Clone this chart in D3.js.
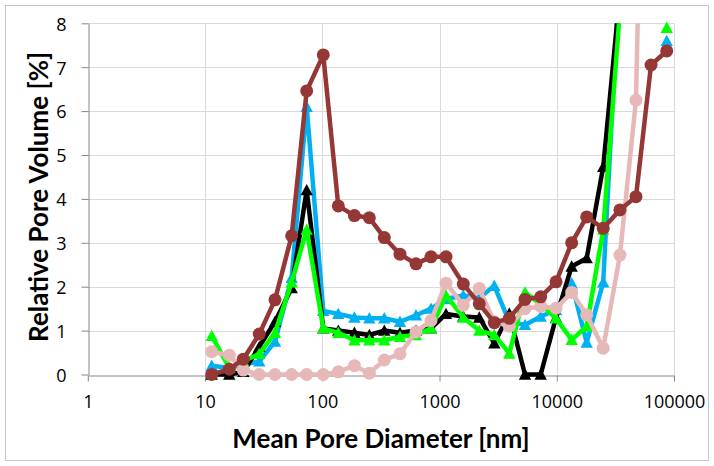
<!DOCTYPE html>
<html><head><meta charset="utf-8">
<script src="https://cdn.jsdelivr.net/npm/d3@7"></script>
<style>html,body{margin:0;padding:0;background:#fff;}svg{display:block;}</style>
</head><body>
<svg id="chart" width="714" height="466"></svg>
<script>
// ---- data ----
const diameters = [11.4, 16.1, 21.2, 29.0, 39.5, 54.8, 73.6, 102, 137, 188, 252, 338, 460, 630, 846, 1136, 1595, 2183, 2933, 3938, 5358, 7295, 9862, 13400, 18000, 24900, 34600, 47400, 63700, 86700];
const blueValues  = [0.2, 0.15, 0.22, 0.3, 0.75, 2.2, 6.1, 1.45, 1.38, 1.3, 1.28, 1.28, 1.2, 1.35, 1.5, 1.72, 1.8, 1.74, 2.02, 1.2, 1.13, 1.32, 1.47, 2.08, 0.73, 2.1, 9.4, null, null, 7.6];
const blackValues = [0, 0, 0.06, 0.63, 1.2, 1.97, 4.2, 1.05, 1.0, 0.95, 0.9, 1.0, 0.95, 1.0, 1.05, 1.38, 1.32, 1.3, 0.71, 1.39, 0, 0, 1.3, 2.46, 2.65, 4.73, 8.7, null, null, null];
const greenValues = [0.88, 0.15, 0.3, 0.47, 0.95, 2.1, 3.3, 1.05, 0.95, 0.78, 0.78, 0.78, 0.86, 0.9, 1.05, 1.8, 1.3, 1.0, 0.9, 0.48, 1.87, 1.6, 1.28, 0.79, 1.1, 3.3, 8.3, null, null, 7.9];
const pinkValues  = [0.52, 0.44, 0.1, 0, 0, 0, 0, 0, 0.06, 0.2, 0.03, 0.33, 0.47, 0.97, 1.23, 2.08, 1.58, 1.96, 1.2, 1.1, 1.5, 1.55, 1.51, 1.87, 1.36, 0.6, 2.72, 6.25, 22, null];
const brownValues = [0, 0.12, 0.35, 0.92, 1.70, 3.16, 6.46, 7.28, 3.84, 3.62, 3.57, 3.12, 2.74, 2.52, 2.68, 2.68, 2.06, 1.61, 1.18, 1.28, 1.71, 1.77, 2.11, 3.0, 3.59, 3.33, 3.75, 4.05, 7.05, 7.37];
const xTicks = [1, 10, 100, 1000, 10000, 100000];
const yTicks = [0, 1, 2, 3, 4, 5, 6, 7, 8];
const xTitle = "Mean Pore Diameter [nm]";
const yTitle = "Relative Pore Volume [%]";

const series = [
  {name: "Blue",  values: blueValues,  color: "#00B0F0", marker: "triangle"},
  {name: "Black", values: blackValues, color: "#000000", marker: "triangle"},
  {name: "Green", values: greenValues, color: "#00FF00", marker: "triangle"},
  {name: "Pink",  values: pinkValues,  color: "#E6B9B8", marker: "circle"},
  {name: "Brown", values: brownValues, color: "#953735", marker: "circle"}
];

// ---- layout ----
const W = 714, H = 466;
const plot = {left: 87.8, right: 674, top: 23.3, bottom: 374.5};
const svg = d3.select("#chart");

svg.append("rect").attr("x", 5.5).attr("y", 5.5).attr("width", 703).attr("height", 455)
  .attr("fill", "#fff").attr("stroke", "#C6C6C6").attr("stroke-width", 1);

const x = d3.scaleLog().domain([1, 100000]).range([plot.left, plot.right]);
const y = d3.scaleLinear().domain([0, 8]).range([plot.bottom, plot.top]);

// gridlines
const grid = svg.append("g");
grid.selectAll("line.h").data(yTicks.filter(d => d > 0)).join("line")
  .attr("x1", plot.left).attr("x2", plot.right)
  .attr("y1", d => Math.round(y(d)) + 0.5).attr("y2", d => Math.round(y(d)) + 0.5)
  .attr("stroke", "#D9D9D9").attr("stroke-width", 1);
grid.selectAll("line.v").data(xTicks.filter(d => d > 1)).join("line")
  .attr("y1", plot.top).attr("y2", plot.bottom)
  .attr("x1", d => Math.round(x(d)) + 0.5).attr("x2", d => Math.round(x(d)) + 0.5)
  .attr("stroke", "#D9D9D9").attr("stroke-width", 1);

// axes
const xAxis = d3.axisBottom(x).tickValues(xTicks).tickFormat(d3.format("d")).tickSizeInner(6).tickSizeOuter(0).tickPadding(14);
const yAxis = d3.axisLeft(y).tickValues(yTicks).tickSizeInner(7).tickSizeOuter(0).tickPadding(15);
const gx = svg.append("g").attr("transform", `translate(0,${Math.round(plot.bottom) + 0.5})`).call(xAxis);
const gy = svg.append("g").attr("transform", `translate(${Math.round(plot.left) + 0.5},0)`).call(yAxis);
[gx, gy].forEach(g => {
  g.select(".domain").attr("stroke", "#868686").attr("stroke-width", 1);
  g.selectAll(".tick line").attr("stroke", "#868686");
  g.selectAll(".tick text").attr("fill", "#000").attr("font-family", "'Open Sans', sans-serif").attr("font-size", 18);
});
gy.selectAll(".tick text").attr("dy", "0.38em");

// clip
svg.append("clipPath").attr("id", "plotclip").append("rect")
  .attr("x", plot.left - 10).attr("y", plot.top).attr("width", plot.right - plot.left + 20).attr("height", plot.bottom - plot.top + 8);

const line = d3.line()
  .defined(d => d.v !== null)
  .x(d => x(d.x)).y(d => y(d.v));

const tri = "M0,-6.2L6.2,5.2L-6.2,5.2Z";

series.forEach(s => {
  const pts = diameters.map((dx, i) => ({x: dx, v: s.values[i]}));
  svg.append("path").datum(pts).attr("d", line)
    .attr("fill", "none").attr("stroke", s.color).attr("stroke-width", 4.5)
    .attr("stroke-linejoin", "round").attr("clip-path", "url(#plotclip)");
  const vis = pts.filter(d => d.v !== null && d.v <= 8);
  if (s.marker === "circle") {
    svg.append("g").selectAll("circle").data(vis).join("circle")
      .attr("cx", d => x(d.x)).attr("cy", d => y(d.v)).attr("r", 6.5).attr("fill", s.color);
  } else {
    svg.append("g").selectAll("path").data(vis).join("path")
      .attr("d", tri).attr("transform", d => `translate(${x(d.x)},${y(d.v)})`).attr("fill", s.color);
  }
});

// titles
svg.append("text").attr("x", 381).attr("y", 448)
  .attr("text-anchor", "middle").attr("font-family", "Lato, 'Open Sans', sans-serif")
  .attr("font-weight", "bold").attr("font-size", 26).attr("fill", "#000").text(xTitle);
svg.append("text").attr("transform", `translate(48,${(plot.top + plot.bottom) / 2 - 2}) rotate(-90)`)
  .attr("text-anchor", "middle").attr("font-family", "Lato, 'Open Sans', sans-serif")
  .attr("font-weight", "bold").attr("font-size", 26).attr("fill", "#000").text(yTitle);
</script>
</body></html>
